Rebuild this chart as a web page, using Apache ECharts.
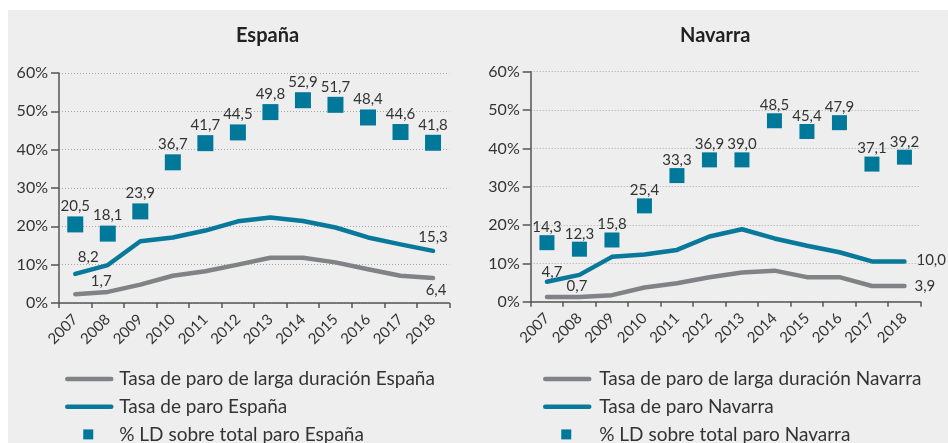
<!DOCTYPE html>
<html><head><meta charset="utf-8">
<script src="https://cdn.jsdelivr.net/npm/echarts@6/dist/echarts.min.js"></script>
<style>html,body{margin:0;padding:0;background:#fff}#c{width:948px;height:443px}</style>
</head><body><div id="c"></div>
<script>
// ---------- data ----------
const years = ['2007','2008','2009','2010','2011','2012','2013','2014','2015','2016','2017','2018'];
const yTicks = [0, 10, 20, 30, 40, 50, 60];

// España
const spainLongTermRate = [2.3, 2.9, 4.8, 7.1, 8.3, 10.0, 11.8, 11.8, 10.6, 8.8, 7.1, 6.5];
const spainRate         = [7.6, 9.9, 16.1, 17.1, 18.9, 21.3, 22.3, 21.4, 19.7, 17.1, 15.3, 13.6];
const spainLDShare      = [20.5, 18.1, 23.9, 36.7, 41.7, 44.5, 49.8, 52.9, 51.7, 48.4, 44.6, 41.8];
const spainLongTermEnds = [1.7, 6.4];   // printed first / last values
const spainRateEnds     = [8.2, 15.3];

// Navarra
const navarraLongTermRate = [1.2, 1.2, 1.7, 3.7, 4.8, 6.4, 7.6, 8.1, 6.4, 6.4, 4.1, 4.1];
const navarraRate         = [5.2, 7.0, 11.7, 12.3, 13.5, 17.0, 18.9, 16.5, 14.6, 12.9, 10.5, 10.5];
const navarraLDShare      = [15.4, 13.7, 16.1, 25.0, 32.9, 37.0, 37.0, 47.2, 44.4, 46.7, 35.9, 37.7]; // drawn positions
const navarraLDShareText  = [14.3, 12.3, 15.8, 25.4, 33.3, 36.9, 39.0, 48.5, 45.4, 47.9, 37.1, 39.2]; // printed values
const navarraLongTermEnds = [0.7, 3.9];
const navarraRateEnds     = [4.7, 10.0];

const names = {
  spainLT: 'Tasa de paro de larga duración España',
  spainR: 'Tasa de paro España',
  spainS: '% LD sobre total paro España',
  navLT: 'Tasa de paro de larga duración Navarra',
  navR: 'Tasa de paro Navarra',
  navS: '% LD sobre total paro Navarra'
};

// ---------- style ----------
const FONT = 'Lato';
const BLUE = '#08799a';
const SQ = '#00789a';
const GREY = '#818286';
const TXT = '#333333';
const AX = '#555555';
const SQUARE_ICON = 'path://M0,0 M44,10 M16,0 L26,0 L26,10 L16,10 Z';

const fmt = v => v.toFixed(1).replace('.', ',');

function endLabelled(values, ends, firstCfg, lastCfg) {
  const n = values.length;
  return values.map((v, i) => {
    if (i === 0 || i === n - 1) {
      const cfg = i === 0 ? firstCfg : lastCfg;
      const txt = fmt(ends[i === 0 ? 0 : 1]);
      return { value: v, symbol: 'circle', symbolSize: 0,
        label: Object.assign({ show: true, formatter: () => txt,
          fontFamily: FONT, fontSize: 15, color: TXT }, cfg) };
    }
    return v;
  });
}

function xAxisFor(gi) {
  return {
    type: 'category', gridIndex: gi, data: years, boundaryGap: true,
    axisLine: { show: true, lineStyle: { color: AX, width: 1.5 } },
    axisTick: { show: true, length: 5, lineStyle: { color: AX, width: 1.5 } },
    axisLabel: { rotate: 45, interval: 0, fontFamily: FONT, fontSize: 15, color: TXT,
      margin: 14, padding: [24, 0, 0, 0] }
  };
}
function yAxisFor(gi) {
  return {
    type: 'value', gridIndex: gi, min: yTicks[0], max: yTicks[yTicks.length - 1], interval: 10,
    axisLine: { show: true, lineStyle: { color: AX, width: 1.5 } },
    axisTick: { show: true, length: 8, lineStyle: { color: AX, width: 1.5 } },
    axisLabel: { formatter: '{value}%', fontFamily: FONT, fontSize: 16, color: TXT, margin: 11 },
    splitLine: { show: true, lineStyle: { color: '#a8a8a8', width: 1, type: [1, 2] } }
  };
}
function lineSeries(name, gi, data, color) {
  return {
    name, type: 'line', xAxisIndex: gi, yAxisIndex: gi, data,
    symbol: 'none', showSymbol: true, smooth: false,
    lineStyle: { color, width: 4.5, cap: 'round', join: 'round' },
    itemStyle: { color }, z: 3
  };
}
function legendFor(left, items, textPad) {
  return {
    orient: 'vertical', left, top: 369, width: 400, height: 90, padding: 0,
    itemWidth: 44, itemHeight: 10, itemGap: 7.7,
    selectedMode: false,
    lineStyle: { width: 4.5, cap: 'round' },
    textStyle: { fontFamily: FONT, fontSize: 19, color: TXT, lineHeight: 20, padding: [0, 0, 0, textPad] },
    data: [
      { name: items[0], itemStyle: { opacity: 0 } },
      { name: items[1], itemStyle: { opacity: 0 } },
      { name: items[2], icon: SQUARE_ICON }
    ]
  };
}

const option = {
  backgroundColor: '#ffffff',
  animation: false,
  graphic: [{ type: 'rect', left: 8, top: 10, z: -100, silent: true,
    shape: { width: 940, height: 433 }, style: { fill: '#eeeeee' } }],
  title: [
    { text: 'España', left: 236, top: 26, padding: 0,
      textStyle: { fontFamily: FONT, fontSize: 20, fontWeight: 'bold', color: '#222' } },
    { text: 'Navarra', left: 680, top: 26, padding: 0,
      textStyle: { fontFamily: FONT, fontSize: 20, fontWeight: 'bold', color: '#222' } }
  ],
  grid: [
    { left: 59, right: 948 - 449.3, top: 73, bottom: 443 - 303 },
    { left: 530.7, right: 948 - 920.7, top: 71.7, bottom: 443 - 301.7 }
  ],
  xAxis: [xAxisFor(0), xAxisFor(1)],
  yAxis: [yAxisFor(0), yAxisFor(1)],
  legend: [
    legendFor(65, [names.spainLT, names.spainR, names.spainS], 3),
    legendFor(543, [names.navLT, names.navR, names.navS], 5)
  ],
  series: [
    lineSeries(names.spainLT, 0,
      endLabelled(spainLongTermRate, spainLongTermEnds,
        { position: 'top', distance: 5, offset: [26, -1] },
        { position: 'bottom', distance: 5, offset: [3, 0] }), GREY),
    lineSeries(names.spainR, 0,
      endLabelled(spainRate, spainRateEnds,
        { position: 'top', distance: 5, offset: [13, -4] },
        { position: 'top', distance: 5, offset: [0, -1] }), BLUE),
    {
      name: names.spainS, type: 'scatter', xAxisIndex: 0, yAxisIndex: 0, data: spainLDShare,
      symbol: 'rect', symbolSize: 16, itemStyle: { color: SQ, opacity: 1 }, z: 4,
      label: { show: true, position: 'top', distance: 2.5, fontFamily: FONT, fontSize: 15, color: TXT,
        formatter: p => fmt(p.value) }
    },
    lineSeries(names.navLT, 1,
      endLabelled(navarraLongTermRate, navarraLongTermEnds,
        { position: 'top', distance: 5, offset: [30, 2] },
        { position: 'right', distance: 10, offset: [0, 0] }), GREY),
    lineSeries(names.navR, 1,
      endLabelled(navarraRate, navarraRateEnds,
        { position: 'top', distance: 5, offset: [5, 2.5] },
        { position: 'right', distance: 12, offset: [0, -1] }), BLUE),
    {
      name: names.navS, type: 'scatter', xAxisIndex: 1, yAxisIndex: 1, data: navarraLDShare,
      symbol: 'rect', symbolSize: 15, itemStyle: { color: SQ, opacity: 1 }, z: 4,
      label: { show: true, position: 'top', distance: 0.5, fontFamily: FONT, fontSize: 15, color: TXT,
        formatter: p => fmt(navarraLDShareText[p.dataIndex]) }
    }
  ]
};

const chart = echarts.init(document.getElementById('c'), null, { renderer: 'canvas' });
chart.setOption(option);
</script>
</body></html>
